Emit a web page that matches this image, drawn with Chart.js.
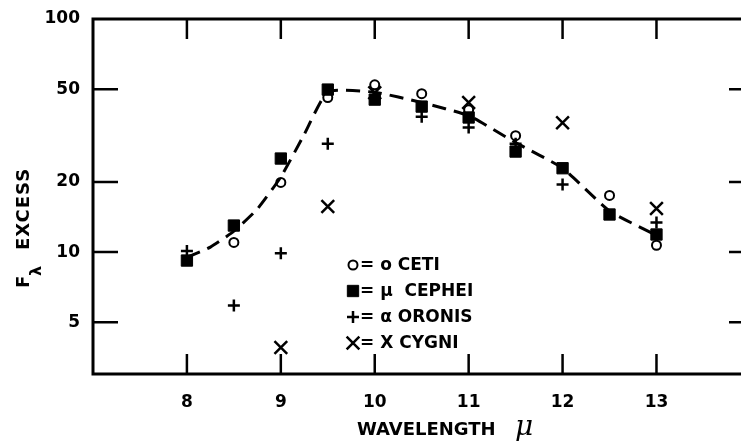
<!DOCTYPE html>
<html>
<head>
<meta charset="utf-8">
<script src="https://cdn.jsdelivr.net/npm/chart.js@4/dist/chart.umd.min.js"></script>
<style>
  html, body { margin: 0; padding: 0; background: #fff; overflow: hidden; }
  canvas { display: block; }
</style>
</head>
<body>
<canvas id="excessChart" width="741" height="443"></canvas>
<script>
// Wavelength grid (microns) and the excess flux of each star (null = no point)
const wavelengths = [8, 8.5, 9, 9.5, 10, 10.5, 11, 11.5, 12, 12.5, 13];
const oCeti    = [null, 11.0, 19.9, 46.0, 52.2, 47.8, 40.8, 31.6, null, 17.5, 10.7];
const muCephei = [9.2, 13.0, 25.2, 49.8, 45.1, 42.1, 37.8, 27.0, 22.9, 14.5, 11.9];
const alphaOri = [10.1, 5.9, 9.9, 29.2, null, 38.1, 34.2, 29.2, 19.5, null, 13.4];
const chiCygni = [null, null, 3.9, 15.7, 48.3, null, 43.8, null, 35.9, null, 15.4];

// Dashed curve drawn through the points
const curveX = [8, 8.25, 8.5, 8.75, 9, 9.25, 9.5, 10, 10.5, 11, 11.5, 12, 12.5, 13];
const curveY = [9.5, 10.5, 12.3, 15.3, 21.0, 32.0, 48.8, 48.5, 43.8, 38.5, 29.5, 22.9, 15.0, 11.8];

// Axis ticks and legend text
const xTicks = [8, 9, 10, 11, 12, 13];
const yTicks = [5, 10, 20, 50, 100];
const legendLabels = ['= o CETI', '= \u03bc  CEPHEI', '= \u03b1 ORONIS', '= X CYGNI'];

const tickFont = { family: 'DejaVu Sans', size: 17, weight: 'bold' };

function toPoints(xs, ys) {
    const pts = [];
    xs.forEach((x, i) => {
        if (ys[i] !== null) pts.push({ x: x, y: ys[i] });
    });
    return pts;
}

function markerSet(label, values, style, radius, width, fill) {
    return {
        label: label,
        data: toPoints(wavelengths, values),
        showLine: false,
        pointStyle: style,
        pointRadius: radius,
        pointHoverRadius: radius,
        pointBorderWidth: width,
        borderColor: '#000',
        backgroundColor: fill,
        pointBackgroundColor: fill,
        pointBorderColor: '#000'
    };
}

const starSets = [
    markerSet('o CETI', oCeti, 'circle', 4.5, 2, 'rgba(0,0,0,0)'),
    markerSet('mu CEPHEI', muCephei, 'rect', 8, 1, '#000'),
    markerSet('alpha ORONIS', alphaOri, 'cross', 6, 2.5, '#000'),
    markerSet('X CYGNI', chiCygni, 'crossRot', 9, 2.5, '#000')
];

// Frame, inward ticks, legend and axis titles
const framePlugin = {
    id: 'frame',
    afterDraw(chart) {
        const ctx = chart.ctx;
        const a = chart.chartArea;
        const xs = chart.scales.x;
        const ys = chart.scales.y;
        ctx.save();
        ctx.strokeStyle = '#000';
        ctx.fillStyle = '#000';
        ctx.lineCap = 'butt';

        ctx.lineWidth = 3;
        ctx.beginPath();
        ctx.moveTo(a.right, a.top);
        ctx.lineTo(a.left, a.top);
        ctx.lineTo(a.left, a.bottom);
        ctx.lineTo(a.right, a.bottom);
        ctx.stroke();

        ctx.lineWidth = 2.5;
        ctx.beginPath();
        xTicks.forEach(v => {
            const px = xs.getPixelForValue(v);
            ctx.moveTo(px, a.top);
            ctx.lineTo(px, a.top + 20);
            ctx.moveTo(px, a.bottom);
            ctx.lineTo(px, a.bottom - 20);
        });
        yTicks.filter(v => v < 100).forEach(v => {
            const py = ys.getPixelForValue(v);
            ctx.moveTo(a.left, py);
            ctx.lineTo(a.left + 25, py);
            ctx.moveTo(a.right - 12, py);
            ctx.lineTo(a.right, py);
        });
        ctx.stroke();

        // legend inside the plot
        ctx.font = 'bold 17px "DejaVu Sans"';
        ctx.textBaseline = 'middle';
        ctx.textAlign = 'left';
        starSets.forEach((ds, i) => {
            const cy = 265 + i * 26;
            ctx.lineWidth = ds.pointBorderWidth;
            ctx.fillStyle = ds.pointBackgroundColor;
            Chart.helpers.drawPoint(ctx, {
                pointStyle: ds.pointStyle,
                radius: ds.pointRadius,
                rotation: 0,
                borderWidth: ds.pointBorderWidth
            }, 353, cy);
            ctx.fillStyle = '#000';
            ctx.fillText(legendLabels[i], 360, cy + 1);
        });

        // x title
        ctx.textBaseline = 'alphabetic';
        ctx.font = 'bold 18px "DejaVu Sans"';
        ctx.fillText('WAVELENGTH', 357, 435);
        ctx.font = 'italic 28px "DejaVu Serif"';
        ctx.fillText('\u03bc', 515, 435);

        // y title, rotated
        ctx.translate(29, 288);
        ctx.rotate(-Math.PI / 2);
        ctx.font = 'bold 18px "DejaVu Sans"';
        ctx.fillText('F', 0, 0);
        ctx.font = 'bold 16px "DejaVu Sans"';
        ctx.fillText('\u03bb', 12, 12);
        ctx.font = 'bold 18px "DejaVu Sans"';
        ctx.letterSpacing = '1px';
        ctx.fillText('EXCESS', 38, 0);
        ctx.restore();
    }
};

new Chart(document.getElementById('excessChart').getContext('2d'), {
    type: 'scatter',
    data: {
        datasets: [
            {
                label: 'curve',
                data: toPoints(curveX, curveY),
                showLine: true,
                borderColor: '#000',
                borderWidth: 3,
                borderDash: [14, 8],
                tension: 0.15,
                pointRadius: 0,
                pointHoverRadius: 0
            }
        ].concat(starSets)
    },
    options: {
        responsive: false,
        animation: false,
        devicePixelRatio: 1,
        layout: { autoPadding: false, padding: { top: 19, right: 0, left: 0, bottom: 0 } },
        plugins: {
            legend: { display: false },
            title: { display: false },
            tooltip: { enabled: false }
        },
        scales: {
            x: {
                type: 'linear',
                min: 7,
                max: 13.9,
                grid: { display: false },
                border: { display: false },
                ticks: { font: tickFont, color: '#000', padding: 10 },
                afterBuildTicks: s => { s.ticks = xTicks.map(v => ({ value: v })); },
                afterFit: s => { s.height = 69; }
            },
            y: {
                type: 'logarithmic',
                min: 3,
                max: 100,
                grid: { display: false },
                border: { display: false },
                ticks: { font: tickFont, color: '#000', padding: 5, callback: v => String(v) },
                afterBuildTicks: s => { s.ticks = yTicks.map(v => ({ value: v })); },
                afterFit: s => { s.width = 93; }
            }
        }
    },
    plugins: [framePlugin]
});
</script>
</body>
</html>
